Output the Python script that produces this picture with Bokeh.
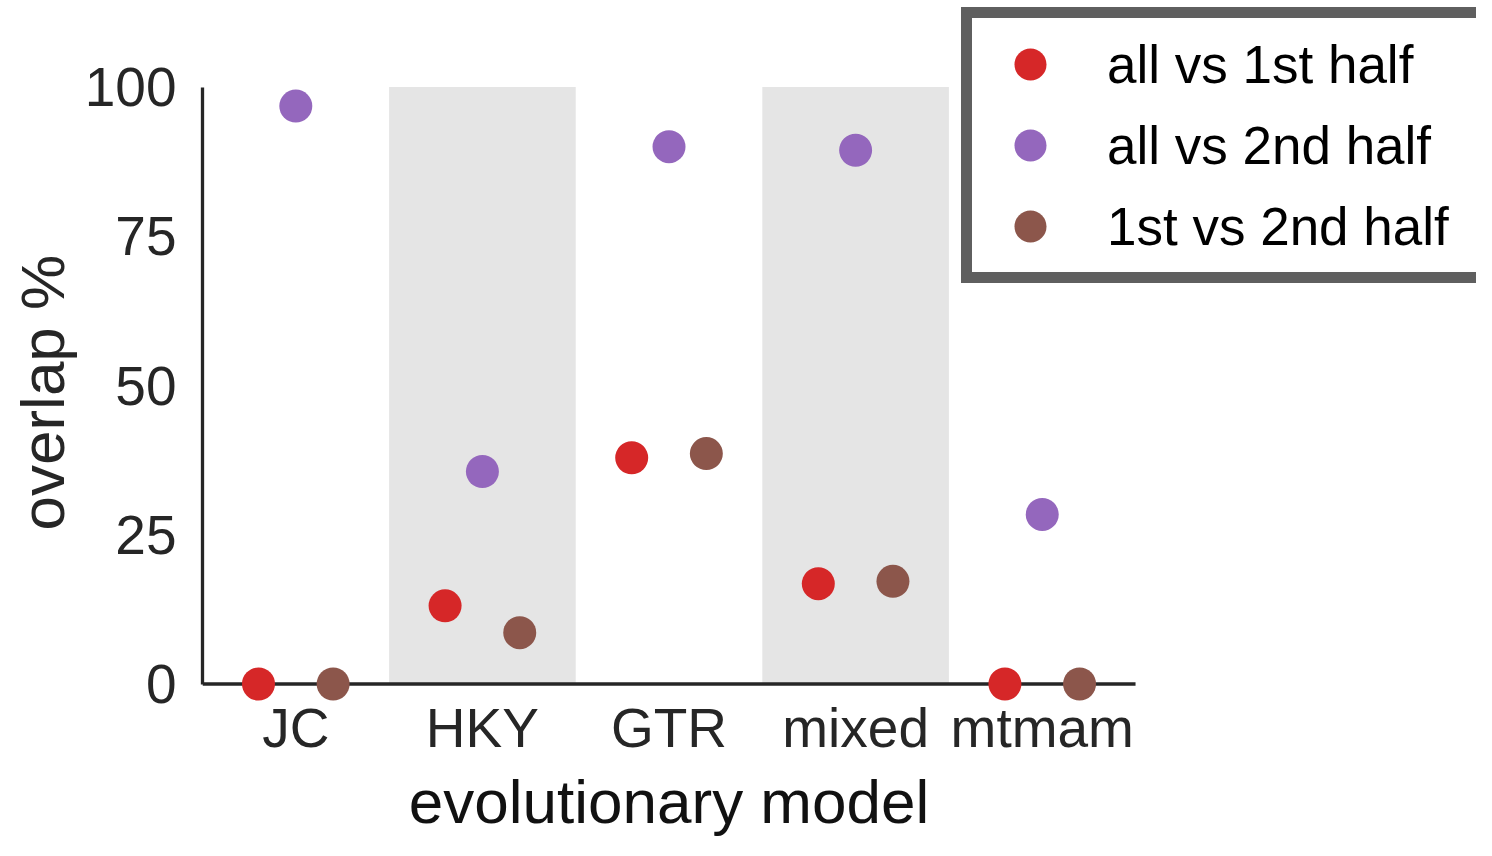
import numpy as np
from bokeh.plotting import figure
from bokeh.models import (ColumnDataSource, Range1d, FixedTicker, Legend, LegendItem, Title)
from bokeh.core.properties import value
from bokeh.embed import file_html
from bokeh.resources import INLINE

# ---- data ----
models = ["JC", "HKY", "GTR", "mixed", "mtmam"]
all_vs_1st = [0.0, 13.1, 37.9, 16.8, 0.0]
all_vs_2nd = [96.8, 35.6, 90.0, 89.4, 28.4]
first_vs_2nd = [0.0, 8.6, 38.6, 17.2, 0.0]
shaded = ["HKY", "mixed"]
series_names = ["all vs 1st half", "all vs 2nd half", "1st vs 2nd half"]
series_colors = ["#d62728", "#9467bd", "#8c564b"]
y_ticks = [0, 25, 50, 75, 100]
x_label = "evolutionary model"
y_label = "overlap %"

FONT = "Liberation Sans"
TXT = "#262626"

idx = np.arange(len(models), dtype=float)
src = ColumnDataSource(dict(pos=idx, zero=np.zeros(len(models)), model=models,
                            a=all_vs_1st, b=all_vs_2nd, c=first_vs_2nd))
band_pos = [models.index(m) for m in shaded]
band_src = ColumnDataSource(dict(pos=band_pos, top=[100] * len(shaded), bottom=[0] * len(shaded)))

# frame geometry (px): 186.9 px per category, 5.97 px per percent
W, H = 1476, 840
LEFT = 200
PX_CAT = 186.9
PX_UNIT = 5.97
Y100_PX = 86.5   # screen row of 100 %
Y0_PX = 683.5    # screen row of 0 %
x_lo = -0.5
x_hi = x_lo + (W - LEFT) / PX_CAT
y_hi = 100 + Y100_PX / PX_UNIT
y_lo = -(H - Y0_PX) / PX_UNIT

p = figure(x_range=Range1d(x_lo, x_hi), y_range=Range1d(y_lo, y_hi),
           width=W, height=H, x_axis_location=None,
           min_border_left=LEFT, min_border_right=0, min_border_top=0, min_border_bottom=0,
           output_backend="svg", toolbar_location=None)
p.outline_line_color = None
p.grid.visible = False
p.background_fill_color = "white"

# shaded alternate bands
p.vbar(x="pos", top="top", bottom="bottom", width=1.0, source=band_src,
       fill_color="#e5e5e5", line_color=None, level="underlay")

# x spine along y = 0 across the category span
p.segment(x0=[idx[0] - 0.5], x1=[idx[-1] + 0.5], y0=[0], y1=[0],
          line_color=TXT, line_width=3.3)

renderers = []
for col, off, color in zip(["a", "b", "c"], [-0.2, 0.0, 0.2], series_colors):
    src.data["x_" + col] = idx + off
    r = p.scatter(x="x_" + col, y=col, source=src,
                  size=33, fill_color=color, line_color=None)
    renderers.append(r)

# category tick labels and x-axis title, placed below the spine
p.text(x="pos", y="zero", text="model", source=src, y_offset=43.5,
       text_font=value(FONT), text_font_size="55px", text_color=TXT,
       text_align="center", text_baseline="alphabetic")
p.text(x=[float(idx.mean())], y=[0], text=[x_label], y_offset=117,
       text_font=value(FONT), text_font_size="62px", text_color="#111111",
       text_align="center", text_baseline="alphabetic")

# y axis
ya = p.yaxis[0]
ya.ticker = FixedTicker(ticks=y_ticks)
ya.bounds = (0, 100)
ya.axis_line_color = TXT
ya.axis_line_width = 3.3
ya.major_tick_line_color = None
ya.minor_tick_line_color = None
ya.major_tick_out = 0
ya.major_label_standoff = 26
ya.major_label_text_font = FONT
ya.major_label_text_font_size = "55px"
ya.major_label_text_color = TXT

yt = Title(text=y_label, align="left", offset=310, standoff=10,
           text_font=FONT, text_font_size="62px", text_font_style="normal",
           text_color=TXT)
p.add_layout(yt, "left")

legend = Legend(items=[LegendItem(label=n, renderers=[r]) for n, r in zip(series_names, renderers)],
                location=(759, 557), orientation="vertical")
legend.label_text_font = FONT
legend.label_text_font_size = "53px"
legend.label_text_color = "black"
legend.border_line_color = "#5f5f5f"
legend.border_line_alpha = 1.0
legend.border_line_width = 11
legend.background_fill_color = "white"
legend.background_fill_alpha = 1.0
legend.glyph_width = 104
legend.glyph_height = 80
legend.label_height = 80
legend.label_width = 420
legend.label_standoff = 25
legend.spacing = 1
legend.padding = 6
legend.margin = 0
p.add_layout(legend, "center")

open("out.html", "w").write(file_html(p, INLINE))
